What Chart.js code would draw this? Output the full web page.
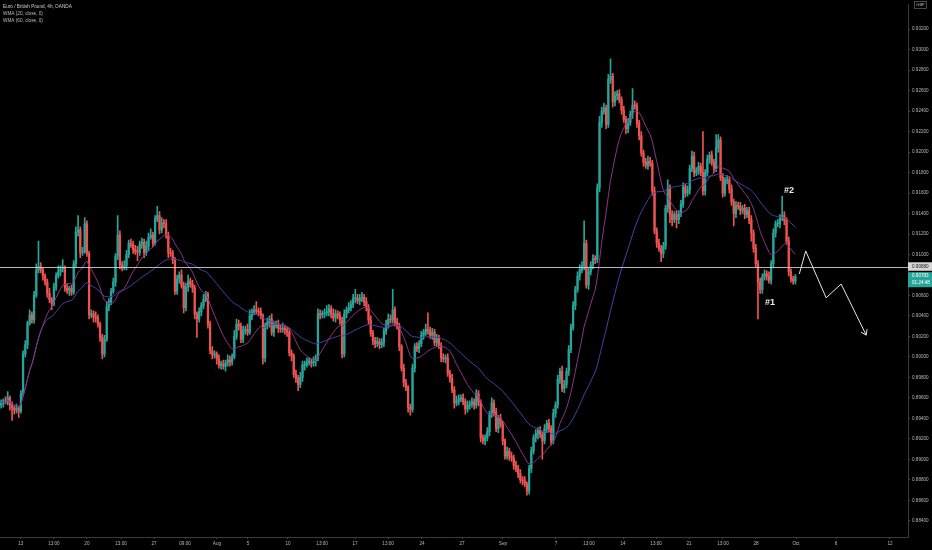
<!DOCTYPE html>
<html><head><meta charset="utf-8">
<script src="https://cdn.jsdelivr.net/npm/chart.js@4.4.1/dist/chart.umd.min.js"></script>
<style>html,body{margin:0;padding:0;background:#000;overflow:hidden}canvas{display:block}</style>
</head><body>
<canvas id="c" width="932" height="550"></canvas>
<script>
const titleText = 'Euro / British Pound, 4h, OANDA';
const legendLines = ['WMA (20, close, 0)', 'WMA (60, close, 0)'];
const currency = 'GBP';
const firstOpen = 0.8953;
const closes = [
0.8955,0.8957,0.8956,0.8960,0.8953,0.8950,0.8948,0.8950,0.8947,0.8964,
0.9003,0.9012,0.9033,0.9041,0.9036,0.9060,0.9085,0.9088,0.9085,0.9079,
0.9073,0.9062,0.9056,0.9052,0.9068,0.9079,0.9083,0.9086,0.9087,0.9067,
0.9065,0.9067,0.9063,0.9091,0.9122,0.9124,0.9102,0.9103,0.9130,0.9101,
0.9041,0.9042,0.9039,0.9038,0.9032,0.9019,0.9003,0.9017,0.9049,0.9054,
0.9064,0.9073,0.9098,0.9119,0.9090,0.9087,0.9089,0.9100,0.9111,0.9110,
0.9105,0.9103,0.9102,0.9110,0.9112,0.9102,0.9108,0.9117,0.9119,0.9111,
0.9135,0.9138,0.9124,0.9131,0.9130,0.9119,0.9102,0.9101,0.9095,0.9064,
0.9076,0.9080,0.9070,0.9048,0.9068,0.9074,0.9071,0.9067,0.9042,0.9037,
0.9044,0.9050,0.9056,0.9061,0.9032,0.9006,0.9002,0.9003,0.8998,0.8992,
0.8993,0.8991,0.8994,0.8997,0.8995,0.9000,0.9020,0.9032,0.9030,0.9017,
0.9026,0.9027,0.9024,0.9040,0.9044,0.9046,0.9045,0.9044,0.9040,0.8999,
0.9030,0.9034,0.9037,0.9024,0.9031,0.9032,0.9028,0.9027,0.9028,0.9026,
0.9024,0.9004,0.9001,0.8983,0.8979,0.8973,0.8980,0.8992,0.8993,0.8995,
0.8995,0.8994,0.8996,0.8999,0.9042,0.9041,0.9042,0.9043,0.9044,0.9047,
0.9042,0.9038,0.9042,0.9040,0.9036,0.9003,0.9042,0.9046,0.9048,0.9051,
0.9057,0.9058,0.9055,0.9057,0.9058,0.9054,0.9048,0.9036,0.9023,0.9016,
0.9013,0.9015,0.9012,0.9014,0.9025,0.9032,0.9037,0.9036,0.9046,0.9034,
0.9030,0.9010,0.8989,0.8975,0.8970,0.8951,0.8949,0.8989,0.9010,0.9008,
0.9013,0.9021,0.9024,0.9027,0.9026,0.9021,0.9024,0.9014,0.9018,0.9011,
0.8999,0.8998,0.8999,0.8984,0.8979,0.8968,0.8955,0.8957,0.8959,0.8960,
0.8956,0.8949,0.8953,0.8954,0.8956,0.8953,0.8964,0.8956,0.8921,0.8918,
0.8921,0.8927,0.8944,0.8955,0.8946,0.8930,0.8940,0.8934,0.8918,0.8903,
0.8908,0.8903,0.8901,0.8894,0.8891,0.8886,0.8880,0.8879,0.8876,0.8869,
0.8891,0.8908,0.8921,0.8925,0.8928,0.8924,0.8918,0.8930,0.8935,0.8930,
0.8918,0.8945,0.8953,0.8978,0.8986,0.8969,0.8973,0.8986,0.9007,0.9029,
0.9050,0.9066,0.9079,0.9085,0.9089,0.9111,0.9070,0.9083,0.9090,0.9096,
0.9095,0.9165,0.9229,0.9240,0.9243,0.9227,0.9271,0.9274,0.9249,0.9255,
0.9257,0.9251,0.9241,0.9232,0.9223,0.9229,0.9237,0.9246,0.9245,0.9228,
0.9216,0.9199,0.9190,0.9187,0.9191,0.9189,0.9162,0.9123,0.9111,0.9106,
0.9101,0.9108,0.9145,0.9165,0.9139,0.9134,0.9139,0.9134,0.9140,0.9149,
0.9166,0.9160,0.9163,0.9184,0.9196,0.9180,0.9182,0.9186,0.9180,0.9162,
0.9180,0.9193,0.9197,0.9190,0.9184,0.9204,0.9212,0.9175,0.9160,0.9172,
0.9173,0.9164,0.9151,0.9140,0.9148,0.9147,0.9143,0.9145,0.9139,0.9143,
0.9134,0.9121,0.9106,0.9091,0.9073,0.9066,0.9078,0.9081,0.9079,0.9075,
0.9091,0.9121,0.9130,0.9130,0.9136,0.9138,0.9133,0.9113,0.9083,0.9076,0.9074,0.90783
];
// wick lengths beyond the candle body, in pips
const wickUp = [
3,2,4,6,2,3,2,4,2,3, 3,4,2,5,3,4,6,25,4,2, 2,3,5,2,4,3,6,3,8,2, 4,2,3,3,5,14,3,4,6,3,
2,4,3,5,3,2,3,4,5,3, 3,4,3,19,4,3,5,4,3,4, 3,4,5,3,4,3,5,4,6,3, 3,9,4,5,3,4,3,4,3,2,
4,3,5,3,4,6,3,4,3,2, 4,3,5,3,2,3,4,3,2,4, 3,4,3,5,4,3,6,5,4,3, 4,3,5,6,3,4,8,3,4,2,
3,4,3,5,4,3,4,3,5,3, 3,4,3,2,4,3,5,4,3,4, 4,3,4,3,5,4,3,4,6,4, 3,5,4,3,4,3,4,3,5,4,
4,8,3,4,5,3,4,3,4,3, 3,4,3,4,3,4,5,4,20,3, 4,3,2,4,3,2,3,4,3,4, 3,4,3,5,16,3,4,3,4,3,
3,4,3,4,3,4,3,5,4,3, 4,3,4,3,4,3,4,3,2,3, 3,4,3,5,3,4,3,4,3,2, 4,3,4,3,4,3,4,3,4,2,
3,4,3,4,3,4,3,4,3,4, 3,4,3,4,3,5,4,3,4,3, 4,3,4,5,4,22,3,4,3,4, 3,4,6,4,5,3,5,17,3,4,
3,4,3,4,3,4,3,16,4,3, 3,4,3,4,5,4,3,4,3,4, 3,4,3,8,3,4,3,4,3,4, 4,3,4,3,5,4,3,4,3,40,
3,4,3,4,3,13,5,3,4,3, 4,3,4,3,4,3,4,3,4,3, 3,4,3,4,3,4,3,4,3,4, 3,4,3,4,3,19,4,3,4,3,3,2
];
const wickDown = [
3,4,2,3,5,12,4,3,6,2, 2,3,4,2,3,3,2,3,3,4, 3,4,3,6,2,3,2,4,3,3, 3,5,3,2,3,4,5,3,2,3,
4,3,5,4,3,4,5,3,2,4, 3,2,4,3,4,3,2,4,3,3, 4,3,8,3,4,5,3,4,2,3, 2,3,4,3,4,3,5,3,4,3,
3,4,3,5,3,4,3,4,5,18, 3,4,3,2,4,3,4,3,5,3, 4,3,5,3,4,3,2,3,4,3, 3,4,3,2,4,3,3,4,3,6,
4,3,5,3,4,3,4,3,3,4, 4,3,5,3,4,6,3,4,5,3, 3,4,3,5,3,4,3,4,3,4, 4,3,4,3,4,4,3,4,3,3,
3,4,3,4,3,4,3,4,3,4, 4,3,4,3,4,3,4,3,3,4, 3,4,3,4,3,5,6,3,4,3, 4,3,4,3,4,3,4,3,4,3,
4,3,4,3,4,3,5,3,4,3, 3,5,3,4,3,4,3,4,4,3, 4,3,4,3,4,3,4,3,4,3, 3,4,3,4,3,4,3,4,3,4,
3,4,3,4,5,3,18,3,4,3, 4,3,4,3,4,3,4,3,4,3, 3,4,3,4,3,4,3,4,3,4, 4,3,4,5,3,4,3,4,5,4,
4,3,4,3,5,4,3,4,3,4, 4,3,4,3,4,3,4,3,4,3, 8,4,3,4,8,6,3,8,4,3, 3,4,3,4,3,4,3,4,3,4,
4,3,4,3,4,3,4,3,4,3, 3,4,3,12,4,3,4,3,4,3, 4,8,4,3,36,4,4,3,4,3, 4,3,4,3,4,3,4,3,4,3,3,3
];
const pip = 0.0001;

const xTickPos    = [8.9, 24, 39, 54.5, 69.5, 83.6, 98.1, 112.2, 130.4, 145.9, 160.9, 175.9, 191.3, 209.5, 228.1, 252.2, 267.2, 282.7, 297.7, 312.7, 328.1, 343.1, 361.3, 379.5, 404];
const xTickLabels = ['13','13:00','20','13:00','27','09:00','Aug','5','10','13:00','17','13:00','24','27','Sep','7','13:00','14','13:00','21','13:00','28','Oct','6','12'];
const yTickValues = [0.884,0.886,0.888,0.890,0.892,0.894,0.896,0.898,0.900,0.902,0.904,0.906,0.908,0.910,0.912,0.914,0.916,0.918,0.920,0.922,0.924,0.926,0.928,0.930,0.932];

const levelPrice = 0.9088;
const lastPrice = 0.90783;
const countdown = '01:24:48';
const arrowX = [362.8, 365.7, 375.0, 381.8, 393.2];
const arrowY = [0.9081, 0.91035, 0.90577, 0.90712, 0.90213];
const noteText = ['#2', '#1'];
const noteX = [358.1, 349.5];
const noteY = [0.9162, 0.9053];

const xMin = -0.5, xMax = 412.2, yMin = 0.88241, yMax = 0.93439;

// ---- derived ----
const opens = closes.map((c, i) => i === 0 ? firstOpen : closes[i - 1]);
const highs = closes.map((c, i) => Math.max(opens[i], c) + wickUp[i] * pip);
const lows  = closes.map((c, i) => Math.min(opens[i], c) - wickDown[i] * pip);
const UP = '#26a69a', DOWN = '#ef5350';
const colors = closes.map((c, i) => c >= opens[i] ? UP : DOWN);

function wma(src, n) {
  return src.map((_, i) => {
    const m = Math.min(n, i + 1); let s = 0, w = 0;
    for (let k = 0; k < m; k++) { s += src[i - k] * (m - k); w += m - k; }
    return s / w;
  });
}
const wma20 = wma(closes, 20), wma60 = wma(closes, 60);

const FONT = '"Liberation Sans", Arial, sans-serif';

const overlay = {
  id: 'overlay',
  afterDatasetsDraw(chart) {
    const { ctx, chartArea: a, scales: { x, y } } = chart;
    ctx.save();
    const yl = Math.round(y.getPixelForValue(levelPrice)) + 0.5;
    ctx.strokeStyle = 'rgba(215,215,215,0.85)'; ctx.lineWidth = 1;
    ctx.beginPath(); ctx.moveTo(a.left, yl); ctx.lineTo(a.right, yl); ctx.stroke();
    const n = arrowX.length;
    const x1 = x.getPixelForValue(arrowX[n - 2]), y1 = y.getPixelForValue(arrowY[n - 2]);
    const x2 = x.getPixelForValue(arrowX[n - 1]), y2 = y.getPixelForValue(arrowY[n - 1]);
    const ang = Math.atan2(y2 - y1, x2 - x1);
    ctx.strokeStyle = '#e6e6e6';
    ctx.beginPath();
    [-0.6, 0.6].forEach(d => { ctx.moveTo(x2, y2); ctx.lineTo(x2 - 6 * Math.cos(ang + d), y2 - 6 * Math.sin(ang + d)); });
    ctx.stroke();
    ctx.fillStyle = '#ececec'; ctx.font = 'bold 9px ' + FONT;
    ctx.textAlign = 'center'; ctx.textBaseline = 'middle';
    noteText.forEach((t, i) => ctx.fillText(t, x.getPixelForValue(noteX[i]), y.getPixelForValue(noteY[i])));
    ctx.restore();
  },
  afterDraw(chart) {
    const { ctx, chartArea: a, scales: { y } } = chart;
    ctx.save();
    const W = chart.width;
    const yl = y.getPixelForValue(levelPrice);
    ctx.fillStyle = '#d6d6d6'; ctx.fillRect(a.right, yl - 4.5, W - a.right, 8.5);
    ctx.fillStyle = '#131722'; ctx.font = '4.6px ' + FONT; ctx.textBaseline = 'middle'; ctx.textAlign = 'left';
    ctx.fillText(levelPrice.toFixed(5), a.right + 4, yl);
    const yc = y.getPixelForValue(lastPrice);
    ctx.fillStyle = UP; ctx.fillRect(a.right, yc - 4.5, W - a.right, 15);
    ctx.fillStyle = '#ffffff';
    ctx.fillText(lastPrice.toFixed(5), a.right + 4, yc - 0.5);
    ctx.fillText(countdown, a.right + 4, yc + 6.5);
    ctx.fillStyle = '#cfcfcf'; ctx.textBaseline = 'middle';
    ctx.font = '4.7px ' + FONT;
    ctx.fillText(titleText, 3, 6.7);
    ctx.fillStyle = '#bdbdbd';
    legendLines.forEach((t, i) => ctx.fillText(t, 3, 14 + i * 7.2));
    ctx.strokeStyle = '#666'; ctx.lineWidth = 0.7;
    ctx.strokeRect(914.5, 1.5, 12, 7);
    ctx.fillStyle = '#bbbbbb'; ctx.textAlign = 'center'; ctx.font = '4px ' + FONT;
    ctx.fillText(currency, 920.5, 5.2);
    ctx.restore();
  }
};

new Chart(document.getElementById('c'), {
  type: 'bar',
  data: {
    datasets: [
      { type: 'line', label: 'arrow', data: arrowX.map((v, i) => ({ x: v, y: arrowY[i] })), borderColor: '#e6e6e6', borderWidth: 1, pointRadius: 0, tension: 0, order: -1 },
      { type: 'line', label: 'WMA 20', data: wma20.map((v, i) => ({ x: i, y: v })), borderColor: '#8a3586', borderWidth: 1, pointRadius: 0, tension: 0, order: 0 },
      { type: 'line', label: 'WMA 60', data: wma60.map((v, i) => ({ x: i, y: v })), borderColor: '#4a40a0', borderWidth: 1, pointRadius: 0, tension: 0, order: 0 },
      { type: 'bar', label: 'body', data: closes.map((c, i) => ({ x: i, y: [opens[i], c] })), backgroundColor: colors, barThickness: 1.6, grouped: false, minBarLength: 1, order: 1 },
      { type: 'bar', label: 'wick', data: closes.map((c, i) => ({ x: i, y: [lows[i], highs[i]] })), backgroundColor: colors, barThickness: 1, grouped: false, order: 2 }
    ]
  },
  options: {
    responsive: false, animation: false, devicePixelRatio: 1,
    layout: { padding: 0 },
    plugins: { legend: { display: false }, tooltip: { enabled: false } },
    scales: {
      x: {
        type: 'linear', position: 'bottom', min: xMin, max: xMax, offset: false,
        afterBuildTicks: s => { s.ticks = xTickPos.map(v => ({ value: v })); },
        afterFit: s => { s.height = 13; },
        grid: { offset: false, drawOnChartArea: false, drawTicks: true, tickLength: 2, color: '#444' },
        border: { color: '#3a3a3a' },
        ticks: { autoSkip: false, maxRotation: 0, padding: 2, color: '#b8b8b8', font: { size: 4.6, family: FONT }, callback: (v, i) => xTickLabels[i] }
      },
      y: {
        type: 'linear', position: 'right', min: yMin, max: yMax,
        afterBuildTicks: s => { s.ticks = yTickValues.map(v => ({ value: v })); },
        afterFit: s => { s.width = 24; },
        grid: { drawOnChartArea: false, drawTicks: true, tickLength: 2, color: '#444' },
        border: { color: '#3a3a3a' },
        ticks: { autoSkip: false, padding: 2, color: '#b8b8b8', font: { size: 4.6, family: FONT }, callback: v => v.toFixed(5) }
      }
    }
  },
  plugins: [overlay]
});
</script>
</body></html>
